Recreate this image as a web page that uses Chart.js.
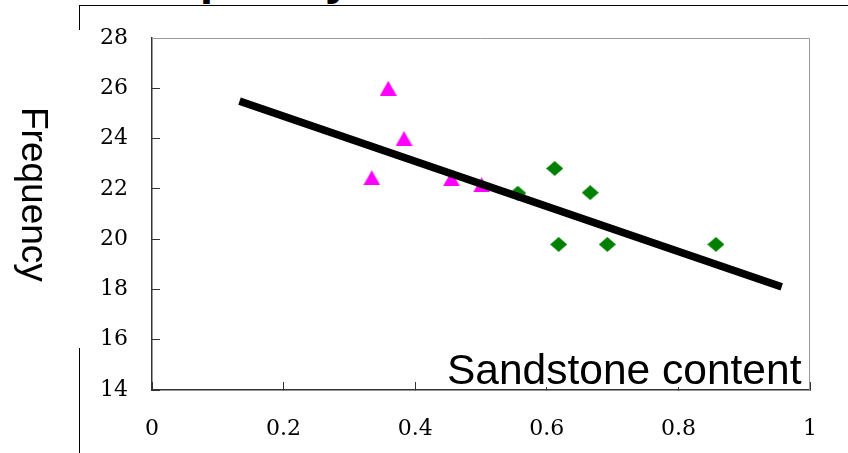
<!DOCTYPE html>
<html lang="en">
<head>
  <meta charset="UTF-8">
  <title>Sandstone content vs frequency</title>
  <script src="https://cdn.jsdelivr.net/npm/chart.js"></script>
  <style>
    body {
      margin: 0;
      background: #fff;
    }
    .page {
      position: relative;
      width: 848px;
      height: 453px;
      overflow: hidden;
      background: #fff;
    }
    #freqChart {
      position: absolute;
      left: 0;
      top: 0;
    }
    /* heading that runs off the top edge, only the descenders show */
    .heading {
      position: absolute;
      left: 109px;
      top: -46px;
      font: bold 48px "Liberation Sans", Arial, sans-serif;
      line-height: 48px;
      color: #000;
      white-space: nowrap;
    }
    .rule {
      position: absolute;
      background: #000;
    }
    .y-title {
      position: absolute;
      left: 15px;
      top: 107px;
      writing-mode: vertical-rl;
      font: 37px "Liberation Sans", Arial, sans-serif;
      line-height: 38px;
      color: #000;
    }
    .x-title {
      position: absolute;
      left: 444px;
      top: 350px;
      width: 362px;
      height: 37px;
      background: #fff;
      font: 42.5px "Liberation Sans", Arial, sans-serif;
      line-height: 40px;
      color: #000;
      padding-left: 3px;
      box-sizing: border-box;
      white-space: nowrap;
    }
  </style>
</head>
<body>
  <div class="page">
    <div class="heading">Frequency</div>
    <div class="rule" style="left:79px; top:5px; width:769px; height:1px;"></div>
    <div class="rule" style="left:79px; top:5px; width:1px; height:25px;"></div>
    <div class="rule" style="left:79px; top:348px; width:1px; height:105px;"></div>
    <canvas id="freqChart" width="848" height="453"></canvas>
    <div class="y-title">Frequency</div>
    <div class="x-title">Sandstone content</div>
  </div>

  <script>
    // sample points, two groups
    const magentaX = [0.359, 0.383, 0.334, 0.455, 0.501];
    const magentaY = [26.0, 24.0, 22.44, 22.40, 22.16];
    const greenX = [0.556, 0.612, 0.666, 0.618, 0.692, 0.857];
    const greenY = [21.83, 22.81, 21.85, 19.79, 19.79, 19.79];
    // fitted trend line end points
    const trendX = [0.133, 0.957];
    const trendY = [25.49, 18.10];
    // axis ranges / steps
    const xTicks = [0, 0.2, 0.4, 0.6, 0.8, 1];
    const yTicks = [14, 16, 18, 20, 22, 24, 26, 28];

    const toPoints = (xs, ys) => xs.map((x, i) => ({ x: x, y: ys[i] }));

    // small marker bitmaps, centred on the point
    function makeMarker(shape, w, h, color) {
      const c = document.createElement('canvas');
      c.width = w;
      c.height = h;
      const g = c.getContext('2d');
      g.fillStyle = color;
      g.beginPath();
      if (shape === 'triangle') {
        g.moveTo(w / 2, 0);
        g.lineTo(w, h);
        g.lineTo(0, h);
      } else {
        g.moveTo(w / 2, 0);
        g.lineTo(w, h / 2);
        g.lineTo(w / 2, h);
        g.lineTo(0, h / 2);
      }
      g.closePath();
      g.fill();
      return c;
    }

    const triMarker = makeMarker('triangle', 17, 15, '#ff00ff');
    const diaMarker = makeMarker('diamond', 17, 15, '#008000');

    // grey box round the plot area; left and bottom get the dark axis lines
    const plotFrame = {
      id: 'plotFrame',
      beforeDatasetsDraw(chart) {
        const a = chart.chartArea;
        const ctx = chart.ctx;
        ctx.save();
        ctx.strokeStyle = '#9a9a9a';
        ctx.lineWidth = 1;
        ctx.beginPath();
        ctx.moveTo(a.left, a.top + 0.5);
        ctx.lineTo(a.right - 0.5, a.top + 0.5);
        ctx.lineTo(a.right - 0.5, a.bottom);
        ctx.stroke();
        ctx.restore();
      }
    };

    const tickFont = { family: '"DejaVu Serif", "Liberation Serif", serif', size: 22 };

    // fixed axis boxes so the plot area lands where the layout padding says
    function fixX(s) {
      s.height = 63;
      s.paddingLeft = 0;
      s.paddingRight = 0;
    }
    function fixY(s) {
      s.width = 152;
      s.paddingTop = 0;
      s.paddingBottom = 0;
    }

    new Chart(document.getElementById('freqChart'), {
      type: 'scatter',
      data: {
        datasets: [
          {
            label: 'trend',
            type: 'line',
            data: toPoints(trendX, trendY),
            borderColor: '#000',
            borderWidth: 7.5,
            borderCapStyle: 'butt',
            pointRadius: 0,
            fill: false,
            order: 0
          },
          {
            label: 'group A',
            data: toPoints(magentaX, magentaY),
            pointStyle: triMarker,
            order: 1
          },
          {
            label: 'group B',
            data: toPoints(greenX, greenY),
            pointStyle: diaMarker,
            order: 1
          }
        ]
      },
      options: {
        responsive: false,
        animation: false,
        devicePixelRatio: 1,
        layout: { padding: { left: 0, right: 38, top: 38, bottom: 0 } },
        plugins: {
          legend: { display: false },
          tooltip: { enabled: false }
        },
        scales: {
          x: {
            type: 'linear',
            min: xTicks[0],
            max: xTicks[xTicks.length - 1],
            afterFit: fixX,
            afterBuildTicks: s => { s.ticks = xTicks.map(v => ({ value: v })); },
            border: { display: true, color: '#333', width: 1.5 },
            grid: { drawOnChartArea: false, drawTicks: true, tickLength: -8, color: '#333' },
            ticks: {
              color: '#000',
              font: tickFont,
              padding: 34,
              maxRotation: 0,
              callback: v => String(Number(v.toFixed(1)))
            }
          },
          y: {
            type: 'linear',
            min: yTicks[0],
            max: yTicks[yTicks.length - 1],
            afterFit: fixY,
            afterBuildTicks: s => { s.ticks = yTicks.map(v => ({ value: v })); },
            border: { display: true, color: '#333', width: 1.5 },
            grid: { drawOnChartArea: false, drawTicks: true, tickLength: -8, color: '#333' },
            ticks: {
              color: '#000',
              font: tickFont,
              padding: 32
            }
          }
        }
      },
      plugins: [plotFrame]
    });
  </script>
</body>
</html>
